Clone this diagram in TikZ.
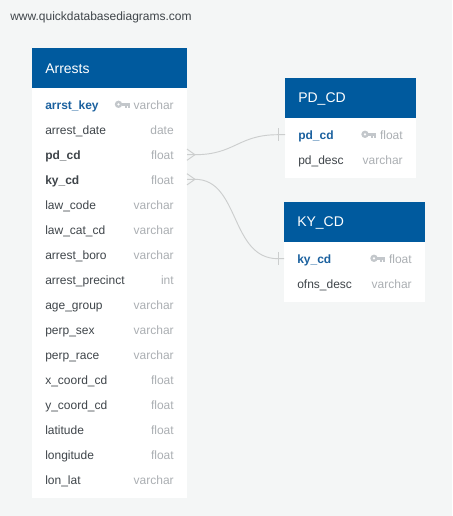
\documentclass[tikz,border=0pt]{standalone}
\usepackage{fontspec}
\setmainfont{Liberation Sans}
\usepackage{xcolor}
\usetikzlibrary{positioning}
\definecolor{pagegray}{HTML}{F4F6F6}
\definecolor{headblue}{HTML}{005A9E}
\definecolor{keyblue}{HTML}{1B619F}
\definecolor{fieldgray}{HTML}{3F454A}
\definecolor{typegray}{HTML}{ABAFB3}
\definecolor{icongray}{HTML}{C3C7CB}
\definecolor{linkgray}{HTML}{CCCECE}

\begin{document}
\begin{tikzpicture}[
	x=0.75pt, y=-0.75pt,
	font=\fontsize{9}{11}\selectfont
]
\tikzset{
	tablebody/.style = {draw=none,fill=white,inner sep=0pt,anchor=north west},
	tablehead/.style = {fill=headblue,inner sep=0pt,minimum height=30pt,anchor=north west},
	headtext/.style = {text=white,font=\fontsize{10.5}{13}\selectfont,anchor=west,inner sep=0pt},
	fieldname/.style = {text=fieldgray,anchor=base west,inner sep=0pt},
	pkname/.style = {text=keyblue,font=\fontsize{9}{11}\selectfont\bfseries,anchor=base west,inner sep=0pt},
	fkname/.style = {text=fieldgray,font=\fontsize{9}{11}\selectfont\bfseries,anchor=base west,inner sep=0pt},
	fieldtype/.style = {text=typegray,anchor=base east,inner sep=0pt},
	link/.style = {draw=linkgray,line width=0.7pt}
}
\newcommand{\keyicon}[1]{
	\fill[icongray,even odd rule] (#1) ++(-11,0) circle (3.7) ++(0,0) circle (1.5);
	\fill[icongray] (#1) ++(-8,-1.7) rectangle ++(8,3.2);
	\fill[icongray] (#1) ++(-5,1) rectangle ++(2,3);
	\fill[icongray] (#1) ++(-2,1) rectangle ++(2,3);
}
\fill[pagegray] (0,0) rectangle (452,516);
\node[text=fieldgray,anchor=base west,inner sep=0pt] (site) at (10,20.7) {www.quickdatabasediagrams.com};

% Arrests table
\node[tablebody,minimum width=116.25pt,minimum height=337.5pt] (arrests) at (32,48) {};
\node[tablehead,minimum width=116.25pt] (arrestshead) at (32,48) {};
\node[headtext] (arreststitle) at (45,68.4) {Arrests};
\node[pkname] (arrstkey) at (45,110) {arrst\_key};
\node[fieldtype] (arrstkeytype) at (174,110) {varchar};
\foreach \row/\fname/\ftype [count=\i from 1] in {
	arrestdate/arrest\_date/date,
	lawcode/law\_code/varchar,
	lawcat/law\_cat\_cd/varchar,
	arrestboro/arrest\_boro/varchar,
	precinct/arrest\_precinct/int,
	agegroup/age\_group/varchar,
	perpsex/perp\_sex/varchar,
	perprace/perp\_race/varchar,
	xcoord/x\_coord\_cd/float,
	ycoord/y\_coord\_cd/float,
	latitude/latitude/float,
	longitude/longitude/float,
	lonlat/lon\_lat/varchar} {
	\pgfmathsetmacro{\rowy}{\i==1 ? 135 : 209.6+(\i-2)*25}
	\node[fieldname] (\row) at (45,\rowy) {\fname};
	\node[fieldtype] (\row type) at (174,\rowy) {\ftype};
}
\node[fkname] (pdcd) at (45,160) {pd\_cd};
\node[fieldtype] (pdcdtype) at (174,160) {float};
\node[fkname] (kycd) at (45,185) {ky\_cd};
\node[fieldtype] (kycdtype) at (174,185) {float};
\keyicon{129.5,104.3}

% PD_CD table
\node[tablebody,minimum width=98.25pt,minimum height=75pt] (pdtable) at (285,78) {};
\node[tablehead,minimum width=98.25pt] (pdhead) at (285,78) {};
\node[headtext] (pdtitle) at (298,98.7) {PD\_CD};
\node[pkname] (pdkey) at (298,139.7) {pd\_cd};
\node[fieldtype] (pdkeytype) at (403,139.7) {float};
\node[fieldname] (pddesc) at (298,164.7) {pd\_desc};
\node[fieldtype] (pddesctype) at (403,164.7) {varchar};
\keyicon{376,134.3}

% KY_CD table
\node[tablebody,minimum width=105.75pt,minimum height=75pt] (kytable) at (284,202) {};
\node[tablehead,minimum width=105.75pt] (kyhead) at (284,202) {};
\node[headtext] (kytitle) at (297,222.7) {KY\_CD};
\node[pkname] (kykey) at (297,263) {ky\_cd};
\node[fieldtype] (kykeytype) at (412,263) {float};
\node[fieldname] (ofnsdesc) at (297,288) {ofns\_desc};
\node[fieldtype] (ofnsdesctype) at (412,288) {varchar};
\keyicon{385,258.3}

% connectors
\coordinate (pdfoot) at (187,154.7);
\coordinate (pdfork) at (195,154.7);
\coordinate (pdend) at (285,134.7);
\coordinate (pdbar) at (278,134.7);
\coordinate (kyfoot) at (187,179.3);
\coordinate (kyfork) at (195,179.3);
\coordinate (kyend) at (284,258.7);
\coordinate (kybar) at (278,258.7);
\draw[link] (pdfoot) -- (pdfork) .. controls (235,154.7) and (238,134.7) .. (pdbar) -- (pdend);
\draw[link] (kyfoot) -- (kyfork) .. controls (240,179.3) and (230,258.7) .. (kybar) -- (kyend);
\foreach \foot in {pd,ky} {
	\draw[link] (\foot fork) -- ([yshift=-4.2pt]\foot foot);
	\draw[link] (\foot fork) -- ([yshift=4.2pt]\foot foot);
	\draw[link] ([yshift=5pt]\foot bar) -- ([yshift=-5pt]\foot bar);
}
\end{tikzpicture}
\end{document}
